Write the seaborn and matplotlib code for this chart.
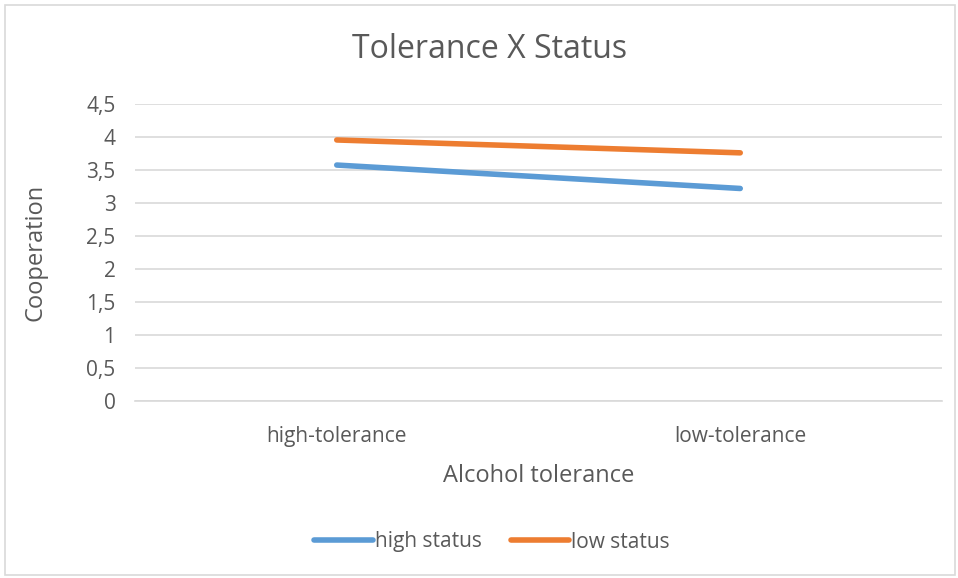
import pandas as pd
import seaborn as sns
import matplotlib.pyplot as plt
from matplotlib.patches import Rectangle

sns.set_style('white')
plt.rcParams['font.family'] = ['Open Sans', 'DejaVu Sans']

# data
tolerance = ['high-tolerance', 'low-tolerance']
high_status = [3.575, 3.22]
low_status = [3.955, 3.76]

df = pd.DataFrame({
    'Alcohol tolerance': tolerance * 2,
    'Cooperation': high_status + low_status,
    'Status': ['high status'] * 2 + ['low status'] * 2,
})

text_col = '#595959'
grid_col = '#d9d9d9'

fig = plt.figure(figsize=(9.58, 5.78), dpi=100)
ax = fig.add_axes([135 / 958, 1 - 401 / 578, (942 - 135) / 958, (401 - 104) / 578])

sns.lineplot(data=df, x='Alcohol tolerance', y='Cooperation', hue='Status',
             palette=['#5b9bd5', '#ed7d31'], linewidth=4, ax=ax,
             solid_capstyle='round')

ax.set_xlim(-0.5, 1.5)
ax.set_ylim(0, 4.5)
ax.set_yticks([0, 0.5, 1, 1.5, 2, 2.5, 3, 3.5, 4, 4.5])
ax.set_yticklabels(['0', '0,5', '1', '1,5', '2', '2,5', '3', '3,5', '4', '4,5'])
ax.yaxis.grid(True, color=grid_col, linewidth=1.2)
ax.set_axisbelow(True)
for s in ['top', 'right', 'left']:
    ax.spines[s].set_visible(False)
ax.spines['bottom'].set_color(grid_col)
ax.spines['bottom'].set_linewidth(1.2)
ax.tick_params(axis='both', length=0, labelsize=15, colors=text_col)
ax.tick_params(axis='x', pad=18)
ax.tick_params(axis='y', pad=14)

ax.set_xlabel('Alcohol tolerance', fontsize=17, color=text_col, labelpad=12)
ax.set_ylabel('Cooperation', fontsize=17, color=text_col, labelpad=28)
fig.text(490 / 958, 1 - 50 / 578, 'Tolerance X Status', fontsize=23,
         color=text_col, ha='center', va='center')

ax.legend(loc='center', bbox_to_anchor=(492 / 958, 1 - 542 / 578),
          bbox_transform=fig.transFigure, ncol=2, frameon=False,
          fontsize=15, labelcolor=text_col, handlelength=2.8,
          handletextpad=0.1, columnspacing=1.4)

fig.patches.append(Rectangle((5 / 958, 3 / 578), 950 / 958, 570 / 578,
                             transform=fig.transFigure, fill=False,
                             edgecolor=grid_col, linewidth=1.2))

fig.savefig('out.png', dpi=100)
